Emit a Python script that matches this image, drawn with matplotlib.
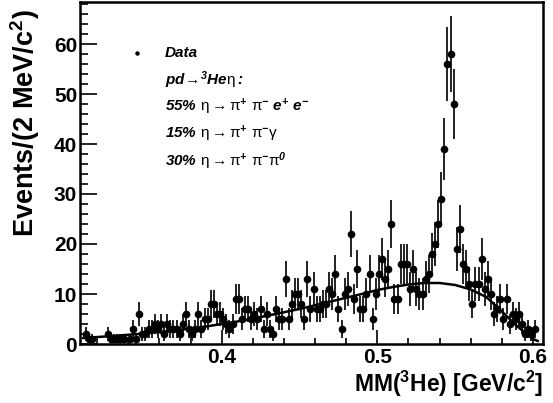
import numpy as np
import matplotlib
matplotlib.use("Agg")
import matplotlib.pyplot as plt
from matplotlib.ticker import MultipleLocator, FuncFormatter

# histogram of MM(3He), 2 MeV bins starting at 0.310 GeV
bin_lo = 0.310
bin_width = 0.002
counts = [
    0, 2, 1, 1, 0, 0, 0, 0, 2, 1, 1, 1, 1, 1, 0, 1, 3, 1, 6, 2,
    2, 3, 3, 4, 3, 4, 2, 4, 3, 3, 3, 2, 4, 6, 3, 2, 3, 6, 3, 5,
    5, 8, 8, 6, 6, 5, 4, 3, 4, 9, 9, 5, 7, 7, 5, 6, 5, 7, 3, 6,
    3, 2, 7, 5, 5, 13, 5, 8, 10, 10, 8, 5, 13, 7, 11, 7, 7, 8, 8, 11,
    10, 14, 7, 3, 10, 11, 22, 9, 15, 7, 7, 10, 14, 5, 10, 14, 17, 13, 15, 24,
    9, 9, 16, 16, 16, 11, 15, 11, 10, 10, 13, 14, 18, 20, 24, 29, 39, 56, 58, 48,
    19, 23, 16, 15, 12, 8, 12, 12, 17, 11, 13, 10, 6, 7, 9, 5, 9, 4, 6, 5,
    6, 4, 2, 3, 2, 3,
]

# background fit curve
fit_x = [0.311, 0.33, 0.35, 0.37, 0.39, 0.41, 0.43, 0.45, 0.47, 0.49, 0.50,
         0.51, 0.52, 0.53, 0.54, 0.55, 0.56, 0.57, 0.58, 0.59, 0.60, 0.603]
fit_y = [1.2, 1.6, 2.1, 2.7, 3.5, 4.5, 5.7, 7.0, 8.5, 10.0, 10.8,
         11.4, 11.9, 12.2, 12.2, 11.8, 10.9, 9.4, 6.5, 3.5, 1.0, 0.6]

# rm = bold italic (ROOT #font 72), sf = upright symbol font
legend_lines = [
    r"$pd\mathsf{\!\rightarrow\!}{}^{3}He\mathsf{\eta}:$",
    r"$55\%\ \mathsf{\eta\rightarrow\pi}^{+}\ \mathsf{\pi}^{-}\ e^{+}\ e^{-}$",
    r"$15\%\ \mathsf{\eta\rightarrow\pi}^{+}\ \mathsf{\pi}^{-}\mathsf{\gamma}$",
    r"$30\%\ \mathsf{\eta\rightarrow\pi}^{+}\ \mathsf{\pi}^{-}\mathsf{\pi}^{0}$",
]

plt.rcParams.update({
    "font.family": ["Liberation Sans", "DejaVu Sans"],
    "font.weight": "bold",
    "mathtext.fontset": "custom",
    "mathtext.rm": "Liberation Sans:italic:bold",
    "mathtext.it": "Liberation Sans:italic:bold",
    "mathtext.sf": "Liberation Sans:weight=normal",
    "mathtext.bf": "Liberation Sans:bold",
    "mathtext.default": "rm",
})

counts = np.asarray(counts, dtype=float)
centers = bin_lo + bin_width * (np.arange(len(counts)) + 0.5)
keep = counts > 0

fig = plt.figure(figsize=(5.53, 4.03), dpi=100)
ax = fig.add_axes([80 / 553, 1 - 344 / 403, 463 / 553, 342.5 / 403])

ax.errorbar(centers[keep], counts[keep], yerr=np.sqrt(counts[keep]),
            fmt="o", color="black", ecolor="#222222", markersize=4.5,
            elinewidth=1.4, capsize=0, zorder=3)
ax.plot(fit_x, fit_y, color="black", linewidth=1.8, zorder=4)

ax.set_xlim(0.309, 0.6064)
ax.set_ylim(0, 68.5)
ax.xaxis.set_major_locator(MultipleLocator(0.1))
ax.xaxis.set_minor_locator(MultipleLocator(0.02))
ax.yaxis.set_major_locator(MultipleLocator(10))
ax.yaxis.set_minor_locator(MultipleLocator(2))
ax.xaxis.set_major_formatter(FuncFormatter(lambda v, p: f"{v:.1f}"))
ax.tick_params(which="both", direction="in", top=False, right=False,
               width=1.2, labelsize=15)
ax.tick_params(axis="y", which="major", length=12, pad=2)
ax.tick_params(axis="y", which="minor", length=6)
ax.tick_params(axis="x", which="major", length=10, pad=3)
ax.tick_params(axis="x", which="minor", length=4)
for sp in ax.spines.values():
    sp.set_linewidth(1.8)

ax.set_ylabel(r"Events/(2 MeV/c$^{\mathbf{2}}$)", fontsize=19.5,
              fontweight="bold", loc="top")
ax.yaxis.set_label_coords(-0.082, 0.978)
ax.set_xlabel(r"MM($^{\mathbf{3}}$He) [GeV/c$^{\mathbf{2}}$]", fontsize=16.5,
              fontweight="bold", loc="right", labelpad=1)

# legend block
fig.lines.append(plt.Line2D([137 / 553], [1 - 53 / 403], marker="o",
                            markersize=2.2, color="black",
                            transform=fig.transFigure))
fig.text(165 / 553, 1 - 53 / 403, "Data", fontsize=11, fontstyle="italic",
         fontweight="bold", va="center")
for i, txt in enumerate(legend_lines):
    fig.text(165 / 553, 1 - (80 + 27 * i) / 403, txt, fontsize=11,
             va="center")

fig.savefig("out.png", dpi=100)
